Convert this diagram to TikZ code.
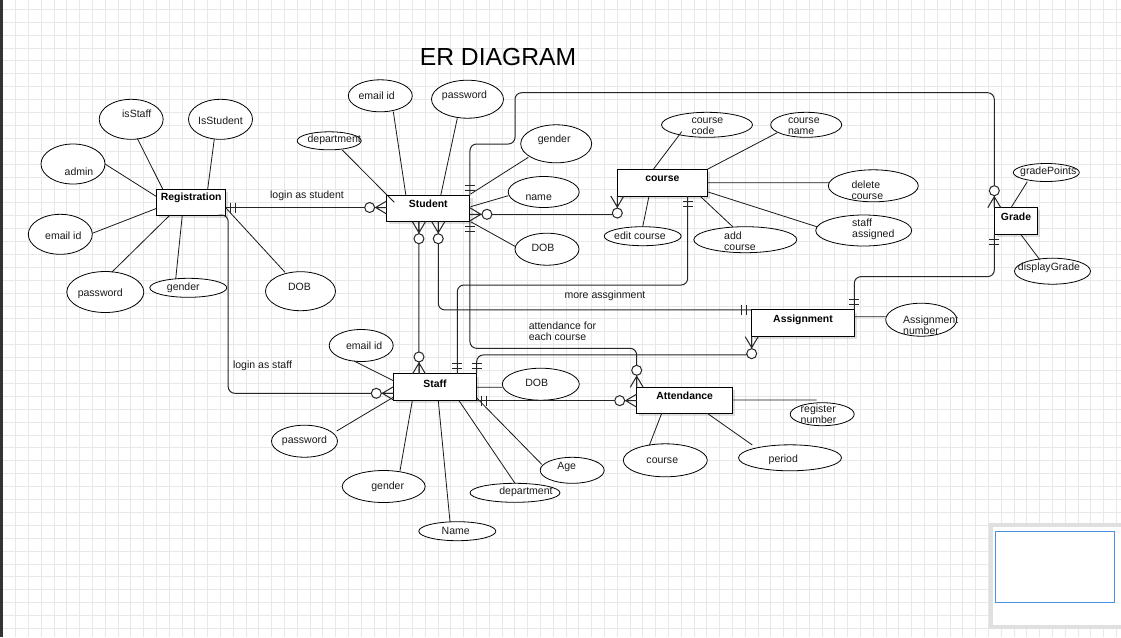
\documentclass[tikz,border=0pt]{standalone}
\usepackage{fontspec}
\setmainfont{Liberation Sans}
\usetikzlibrary{calc,shadows,shapes.geometric}
\definecolor{gridc}{RGB}{232,232,232}
\definecolor{mapblue}{RGB}{74,144,226}
\tikzset{
 ent/.style={draw=black, fill=white, line width=0.75pt, inner sep=0pt, outer sep=0pt,
   drop shadow={shadow xshift=2pt, shadow yshift=-2pt, fill=black, opacity=0.12}},
 attrE/.style={ellipse, draw=black, fill=white, line width=0.6pt, inner sep=0pt, outer sep=0pt},
 lab/.style={font=\fontsize{7.9pt}{8.25pt}\selectfont, align=left, inner sep=0pt, text=black!90},
 entlab/.style={font=\bfseries\fontsize{7.8pt}{9pt}\selectfont, inner sep=0pt},
 rel/.style={draw=black!85, line width=0.75pt},
 attl/.style={draw=black!90, line width=0.6pt},
}
\newcommand\ent[7]{\node[ent, minimum width=#4*0.75pt, minimum height=#5*0.75pt,
  label={[entlab, name=#1-t, yshift=-(#6)*0.75pt]center:{#7}}] (#1) at (#2,#3) {};}
\newcommand\att[8]{\node[attrE, minimum width=#4*0.75pt, minimum height=#5*0.75pt,
  label={[lab, name=#1-t, xshift=(#6)*0.75pt, yshift=-(#7)*0.75pt]center:{#8}}] (#1) at (#2,#3) {};}
\newcommand\link[4]{\draw[attl] ($(#1.north west)+(#2)$) -- ($(#3)+(#4)$);}
\newcommand\one[2]{\begin{scope}[shift={(#1)}, rotate=#2]
  \draw[rel] (5,-5) -- (5,5) (10,-5) -- (10,5);\end{scope}}
\newcommand\many[2]{\begin{scope}[shift={(#1)}, rotate=#2]
  \draw[rel] (0,-6.5) -- (11,0) -- (0,6.5) (0,0) -- (11,0);
  \draw[rel, fill=white] (17,0) circle[radius=5];\end{scope}}
\begin{document}
\begin{tikzpicture}[x=0.75pt,y=-0.75pt]
\useasboundingbox (0,0) rectangle (1121,637);
\fill[white] (0,0) rectangle (1121,637);
% grid
\foreach \k in {0,...,86} {\draw[gridc, line width=0.75pt] ({15.7+12.8*\k},0) -- ({15.7+12.8*\k},637);}
\foreach \k in {0,...,49} {\draw[gridc, line width=0.75pt] (0,{9.3+12.9*\k}) -- (1121,{9.3+12.9*\k});}
\fill[black!80] (0,0) rectangle (3,637);
% minimap frame
\draw[black!12, line width=2.5pt, fill=white] (991,525) rectangle (1124,627);
\draw[mapblue, line width=0.9pt] (995.5,531.5) rectangle (1114.5,602.5);
% title
\node[font=\fontsize{18.5pt}{20pt}\selectfont, inner sep=0pt] (title) at (498,57) {ER DIAGRAM};
% entities
\ent{reg}{191.2}{202}{69}{26}{-4.3}{Registration}
\ent{stu}{428.3}{208.7}{83.3}{26}{-4.7}{Student}
\ent{crs}{662.3}{182.7}{90}{26.7}{-3.7}{course}
\ent{grd}{1016}{221}{43.4}{26.6}{-4.3}{Grade}
\ent{asg}{803}{323.3}{102.6}{26.7}{-3.3}{Assignment}
\ent{stf}{435}{387.3}{83.4}{26.7}{-4}{Staff}
\ent{att}{684.7}{400.3}{96}{26}{-4.6}{Attendance}
% attributes
\att{isstaff}{131.2}{119.3}{64}{40}{5.5}{-5.3}{isStaff}
\att{isstud}{220.5}{119.3}{64}{40}{0}{1}{IsStudent}
\att{radmin}{73}{164}{64}{40}{6}{7.7}{admin}
\att{remail}{60.3}{234.3}{64}{40}{3}{1}{email id}
\att{rpass}{105.3}{292}{77}{41}{-5}{2}{password}
\att{rgender}{188.3}{287.8}{77}{19}{-5}{0}{gender}
\att{rdob}{300.5}{291.2}{70}{39}{-1}{-4}{DOB}
\att{semail}{380.3}{95.8}{64}{32}{-3.6}{0}{email id}
\att{spass}{467.5}{99.2}{72}{38}{-3}{-3}{password}
\att{sdept}{329.2}{140.8}{64}{18}{5}{-1}{department}
\att{sgender}{556.2}{143.8}{71}{38}{-2}{-4}{gender}
\att{sname}{543.7}{192}{71}{31}{-5}{5.7}{name}
\att{sdob}{547}{249.2}{64}{32}{-4}{-1}{DOB}
\att{ccode}{707}{124.8}{91}{25}{0.4}{1.4}{course\\code}
\att{cname}{806.2}{124.8}{71}{25}{-2.4}{1.5}{course\\name}
\att{cdel}{873.3}{185.8}{90}{32}{-6}{4.5}{delete\\course}
\att{cstaff}{863.7}{230.5}{96}{31}{9.6}{-1.3}{staff\\assigned}
\att{cedit}{642.7}{236.2}{77}{19}{-2.7}{-0.5}{edit course}
\att{cadd}{745.3}{239.7}{103}{26}{-5.3}{1.5}{add\\course}
\att{gpts}{1046.3}{172.5}{66}{18}{2}{-1}{gradePoints}
\att{gdisp}{1052.5}{271.2}{76}{26}{-3.5}{-3}{displayGrade}
\att{anum}{921.2}{319.7}{71}{33}{9.5}{5.3}{Assignment\\number}
\att{areg}{822.2}{414.2}{64}{23}{-3.7}{0.3}{register\\number}
\att{aper}{790}{457.8}{103}{26}{-6.7}{2.2}{period}
\att{acrs}{665.3}{460.3}{84}{33}{-3}{0}{course}
\att{temail}{361.2}{345.5}{64}{32}{3}{0}{email id}
\att{tdob}{540.8}{384.2}{77}{32}{-4}{-1}{DOB}
\att{tpass}{304.5}{441.2}{66}{32}{0}{0}{password}
\att{tgender}{383.7}{486.5}{83}{32}{4}{0}{gender}
\att{tname}{457.3}{531.2}{77}{19}{-1.6}{0}{Name}
\att{tdept}{515}{492.8}{90}{19}{11}{-1}{department}
\att{tage}{572.2}{470.3}{64}{26}{-5.5}{-3.6}{Age}
% attribute links
\link{reg}{6,0}{isstaff}{6.1,19}
\link{reg}{51,0}{isstud}{-6.2,19.7}
\link{reg}{0,7.7}{radmin}{32,0}
\link{reg}{0,19.3}{remail}{32,-1}
\link{reg}{13.3,26}{rpass}{6.4,-19.7}
\link{reg}{25.6,26}{rgender}{-12.6,-8.8}
\link{reg}{69,18.7}{rdob}{-15.5,-18.9}
\link{stu}{7.6,6.6}{sdept}{13.1,9.2}
\link{stu}{19.3,0}{semail}{13,15.9}
\link{stu}{54,0}{spass}{-10.2,19.1}
\link{stu}{84,-1.7}{sgender}{-27.9,13.5}
\link{stu}{84,11}{sname}{-35.4,3.7}
\link{stu}{84,26}{sdob}{-31.3,-2.5}
\link{crs}{36,0}{ccode}{-25.3,6.9}
\link{crs}{90,0}{cname}{-28.9,7.9}
\link{crs}{90,13.4}{cdel}{-44.3,-3.1}
\link{crs}{90,22.4}{cstaff}{-47,-3.8}
\link{crs}{82.7,26.7}{cadd}{-12.6,-13}
\link{crs}{31.7,26.7}{cedit}{0,-9.5}
\link{grd}{16.7,0}{gpts}{-19,9.2}
\link{grd}{26.4,26.6}{gdisp}{-12.5,-11.2}
\link{asg}{102.6,6.7}{anum}{-35.5,-3}
\link{att}{96,12.7}{areg}{-5.5,-14.2}
\link{att}{25,26}{acrs}{-16,-15}
\link{att}{70.6,26}{aper}{-37.7,-12.8}
\link{stf}{0,6.7}{temail}{-7.2,15.5}
\link{stf}{0,23.3}{tpass}{32.2,-10.2}
\link{stf}{19,26.7}{tgender}{16.3,-15.8}
\link{stf}{45,26.7}{tname}{-7.3,-9.5}
\link{stf}{65.7,26.7}{tdept}{0,-9.5}
\link{stf}{83.4,24}{tage}{-30.5,-6}
\link{stf}{83.4,13.3}{tdob}{-38.5,3.1}
% relationships
\draw[rel] ($(reg.east)+(0,5.5)$) -- ($(stu.west)+(0,-1.2)$);
\draw[rel, rounded corners=5] ($(reg.south east)+(-7,0)$) -- ($(reg.south east)+(2.5,0)$) |- ($(stf.west)+(0,6)$);
\draw[rel] ($(stu.east)+(0,5.6)$) -| (crs.south west);
\draw[rel] ($(stu.south west)+(32.3,0)$) -- ($(stf.north west)+(25.7,0)$);
\draw[rel, rounded corners=5] ($(stu.south west)+(51.6,0)$) |- (asg.north west);
\draw[rel, rounded corners=5] (stu.north east) |- (515,144) -- (515,92.7) -| (grd.north west);
\draw[rel, rounded corners=5] (stu.south east) |- ($(att.north west)+(0,-39)$) -- (att.north west);
\draw[rel, rounded corners=5] ($(stf.north west)+(64,0)$) |- (687.7,285) -- ($(crs.south west)+(70.4,0)$);
\draw[rel, rounded corners=5] (stf.north east) |- ($(asg.south west)+(0,18.3)$) -- (asg.south west);
\draw[rel] (stf.south east) -- (stf.south east -| att.west);
\draw[rel, rounded corners=5] (grd.south west) |- ($(asg.north east)+(0,-33.3)$) -- (asg.north east);
% cardinality marks
\one{$(reg.east)+(0,5.5)$}{0}
\many{$(stu.west)+(0,-1.2)$}{180}
\many{$(stf.west)+(0,6)$}{180}
\many{$(stu.east)+(0,5.6)$}{0}
\many{crs.south west}{-90}
\many{$(stu.south west)+(32.3,0)$}{-90}
\many{$(stf.north west)+(25.7,0)$}{90}
\many{$(stu.south west)+(51.6,0)$}{-90}
\one{asg.north west}{180}
\one{stu.north east}{90}
\many{grd.north west}{90}
\one{stu.south east}{-90}
\many{att.north west}{90}
\one{$(stf.north west)+(64,0)$}{90}
\one{$(crs.south west)+(70.4,0)$}{-90}
\one{stf.north east}{90}
\many{asg.south west}{-90}
\one{stf.south east}{0}
\many{stf.south east -| att.west}{180}
\one{grd.south west}{-90}
\one{asg.north east}{90}
% connector labels
\node[lab] (l1) at (307,196) {login as student};
\node[lab] (l2) at (262.5,366) {login as staff};
\node[lab] (l3) at (605,296) {more assginment};
\node[lab] (l4) at (562.5,331) {attendance for\\each course};
\end{tikzpicture}
\end{document}
